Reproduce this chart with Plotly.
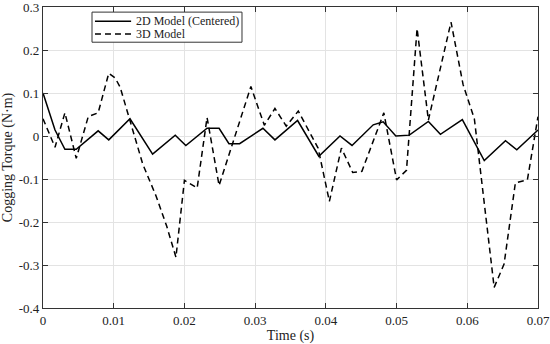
import plotly.graph_objects as go

# 2D Model (Centered)
t2d = [0.0, 0.0017, 0.0031, 0.0047, 0.0078, 0.0093, 0.0123, 0.0155, 0.0187, 0.0202,
       0.0232, 0.0249, 0.0263, 0.0278, 0.0311, 0.0328, 0.0360, 0.0390, 0.0420, 0.0437,
       0.0467, 0.0481, 0.0499, 0.0518, 0.0545, 0.0562, 0.0593, 0.0624, 0.0654, 0.0670, 0.0700]
tq2d = [0.100, 0.014, -0.031, -0.031, 0.012, -0.009, 0.040, -0.042, 0.002, -0.022,
        0.018, 0.018, -0.018, -0.018, 0.018, -0.009, 0.036, -0.047, 0.000, -0.022,
        0.026, 0.033, 0.000, 0.002, 0.034, 0.004, 0.038, -0.057, -0.011, -0.032, 0.014]

# 3D Model
t3d = [0.0, 0.0017, 0.0031, 0.0047, 0.0064, 0.0078, 0.0093, 0.0102, 0.0109, 0.0141,
       0.0160, 0.0175, 0.0188, 0.0200, 0.0218, 0.0232, 0.0249, 0.0294, 0.0313, 0.0328,
       0.0344, 0.0361, 0.0389, 0.0405, 0.0422, 0.0438, 0.0451, 0.0482, 0.0500, 0.0514,
       0.0529, 0.0545, 0.0577, 0.0594, 0.0610, 0.0638, 0.0652, 0.0668, 0.0685, 0.0700]
tq3d = [0.040, -0.026, 0.054, -0.052, 0.045, 0.054, 0.146, 0.135, 0.114, -0.065,
        -0.140, -0.210, -0.282, -0.103, -0.121, 0.043, -0.115, 0.115, 0.025, 0.064,
        0.023, 0.058, -0.028, -0.152, -0.028, -0.085, -0.082, 0.054, -0.102, -0.080,
        0.250, 0.037, 0.265, 0.120, 0.040, -0.352, -0.298, -0.109, -0.102, 0.045]

series_names = ["2D Model (Centered)", "3D Model"]
series_dash = ["solid", "6px,4px"]

x_ticks = [0, 0.01, 0.02, 0.03, 0.04, 0.05, 0.06, 0.07]
x_labels = ["0", "0.01", "0.02", "0.03", "0.04", "0.05", "0.06", "0.07"]
y_ticks = [0.3, 0.2, 0.1, 0, -0.1, -0.2, -0.3, -0.4]
y_labels = ["0.3", "0.2", "0.1", "0", "-0.1", "-0.2", "-0.3", "-0.4"]

font = "Liberation Serif, Times New Roman, serif"
txt = "#222222"

fig = go.Figure()
fig.add_trace(go.Scatter(x=t2d, y=tq2d, mode="lines", name=series_names[0],
                         line=dict(color="black", width=1.5, dash=series_dash[0])))
fig.add_trace(go.Scatter(x=t3d, y=tq3d, mode="lines", name=series_names[1],
                         line=dict(color="black", width=1.5, dash=series_dash[1])))

axis_common = dict(showline=True, linecolor="#333333", linewidth=1.2, mirror="allticks",
                   ticks="inside", ticklen=5, tickcolor="#333333", showgrid=True,
                   gridcolor="#e3e3e3", gridwidth=1, zeroline=False, automargin=False,
                   ticklabeloverflow="allow",
                   tickfont=dict(family=font, size=13, color=txt))

fig.update_xaxes(range=[0, 0.07], tickvals=x_ticks, ticktext=x_labels,
                 title=dict(text="Time (s)", font=dict(family=font, size=14, color=txt), standoff=1),
                 **axis_common)
fig.update_yaxes(range=[-0.4, 0.3], tickvals=y_ticks, ticktext=y_labels,
                 title=dict(text="Cogging Torque (N·m)", font=dict(family=font, size=14, color=txt), standoff=3),
                 **axis_common)

# Compact legend box (MATLAB style), placed in plot-area fractions
box = dict(x0=0.099, x1=0.402, y0=0.883, y1=0.983)
rows_y = [0.953, 0.91]
sample_x = [0.105, 0.178]
text_x = 0.184
shapes = [dict(type="rect", xref="paper", yref="paper", **box,
               line=dict(color="#333333", width=1), fillcolor="white", layer="above")]
annotations = []
for name, dash, ry in zip(series_names, series_dash, rows_y):
    shapes.append(dict(type="line", xref="paper", yref="paper", x0=sample_x[0], x1=sample_x[1],
                       y0=ry, y1=ry, line=dict(color="black", width=1.5, dash=dash), layer="above"))
    annotations.append(dict(xref="paper", yref="paper", x=text_x, y=ry, text=name, showarrow=False,
                            xanchor="left", yanchor="middle",
                            font=dict(family=font, size=12, color=txt)))

fig.update_layout(
    width=550, height=344,
    margin=dict(l=43, r=12, t=7, b=36),
    paper_bgcolor="white", plot_bgcolor="white",
    font=dict(family=font, color=txt),
    showlegend=False,
    shapes=shapes, annotations=annotations,
)

fig.write_html("out.html", config={"displayModeBar": False},
               post_script="document.body.style.margin='0';document.body.style.overflow='hidden';")
